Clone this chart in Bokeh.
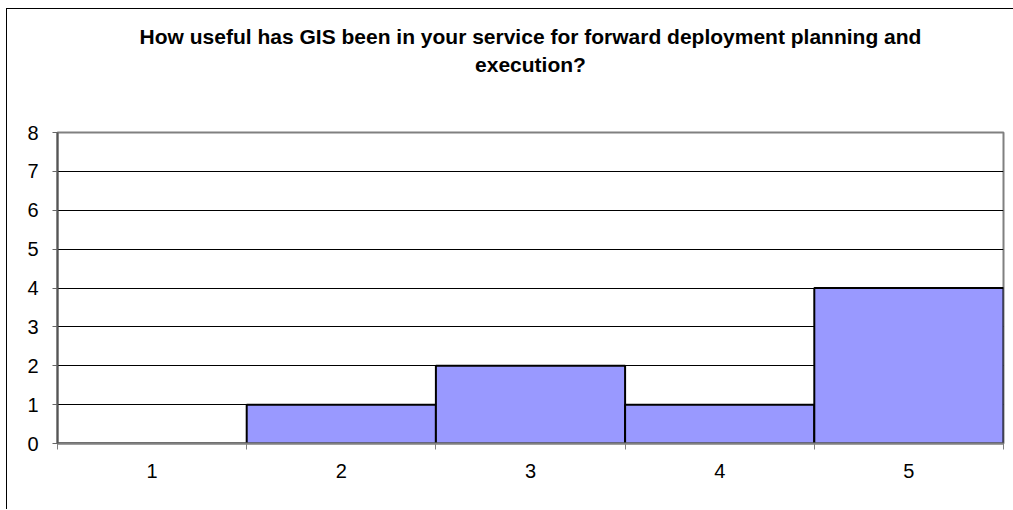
from bokeh.plotting import figure
from bokeh.layouts import column
from bokeh.models import FixedTicker, Range1d, Title, LinearAxis
from bokeh.embed import file_html
from bokeh.resources import INLINE

categories = [1, 2, 3, 4, 5]
values = [0, 1, 2, 1, 4]
y_ticks = [0, 1, 2, 3, 4, 5, 6, 7, 8]
boundaries = [0.5, 1.5, 2.5, 3.5, 4.5, 5.5]
title_lines = ["How useful has GIS been in your service for forward deployment planning and",
               "execution?"]

FONT = "Liberation Sans"

p = figure(width=1006, height=500, output_backend="svg", toolbar_location=None,
           x_range=Range1d(0.5, 5.5), y_range=Range1d(0, 8),
           min_border_left=50, min_border_right=10, min_border_bottom=66, min_border_top=0)

p.vbar(x=categories, top=values, width=1.0, bottom=0,
       fill_color="#9999FF", line_color="black", line_width=2)


def spacer(size):
    # invisible axis used only to reserve vertical space above the frame
    return LinearAxis(ticker=FixedTicker(ticks=[categories[2]], minor_ticks=[]),
                      major_tick_out=size, major_tick_in=0, major_label_standoff=0,
                      axis_line_color=None, major_tick_line_color=None,
                      minor_tick_line_color=None, major_label_text_color=None)


def title(text):
    return Title(text=text, align="center", text_font=FONT, text_font_size="21px",
                 text_font_style="bold", text_color="black", standoff=3)


p.add_layout(spacer(55), "above")
p.add_layout(title(title_lines[1]), "above")
p.add_layout(title(title_lines[0]), "above")
p.add_layout(spacer(12), "above")

p.outline_line_color = "#808080"
p.outline_line_width = 2

p.xgrid.grid_line_color = None
p.ygrid.ticker = FixedTicker(ticks=y_ticks)
p.ygrid.grid_line_color = "black"
p.ygrid.grid_line_width = 1

xa = p.below[0]
xa.ticker = FixedTicker(ticks=categories, minor_ticks=boundaries)
xa.major_tick_out = 0
xa.major_tick_in = 0
xa.minor_tick_out = 6
xa.minor_tick_in = 0
xa.minor_tick_line_color = "#808080"
xa.axis_line_color = "#808080"
xa.axis_line_width = 2
xa.major_label_standoff = 14
xa.major_label_text_font = FONT
xa.major_label_text_font_size = "20px"
xa.major_label_text_color = "black"

p.yaxis.ticker = FixedTicker(ticks=y_ticks)
p.yaxis.minor_tick_line_color = None
p.yaxis.major_tick_out = 5
p.yaxis.major_tick_in = 0
p.yaxis.axis_line_color = "#555555"
p.yaxis.axis_line_width = 2
p.yaxis.major_tick_line_color = "#666666"
p.yaxis.major_label_standoff = 14
p.yaxis.major_label_text_font = FONT
p.yaxis.major_label_text_font_size = "20px"
p.yaxis.major_label_text_color = "black"

layout = column(p, styles={"border-left": "1px solid black", "border-top": "1px solid black",
                           "margin-left": "6px", "margin-top": "8px"})

open("out.html", "w").write(file_html(layout, INLINE))
